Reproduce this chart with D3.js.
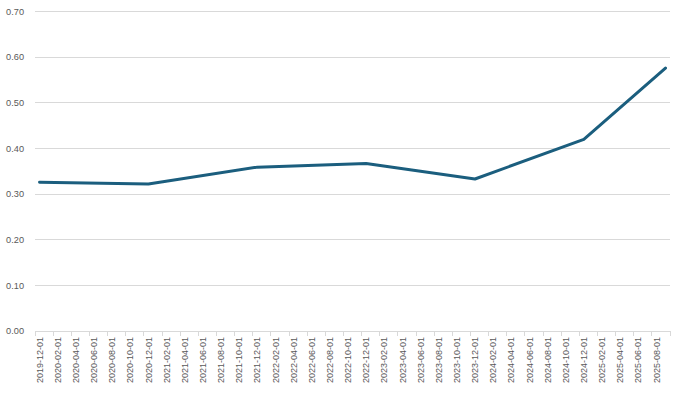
<!DOCTYPE html>
<html>
<head>
<meta charset="utf-8">
<script src="https://cdn.jsdelivr.net/npm/d3@7/dist/d3.min.js"></script>
<style>
  html, body { margin: 0; padding: 0; background: #fff; }
  svg { display: block; }
  text { font-family: "Liberation Sans", Arial, sans-serif; fill: #595959; }
</style>
</head>
<body>
<div id="chart"></div>
<script>
// ---- data ----
const dates = ["2019-12-01","2020-12-01","2021-12-01","2022-12-01","2023-12-01","2024-12-01","2025-09-01"];
const values = [0.326, 0.322, 0.359, 0.367, 0.333, 0.420, 0.576];
const yTicks = [0, 0.1, 0.2, 0.3, 0.4, 0.5, 0.6, 0.7];
const axisStart = "2019-12-01";
const axisEnd = "2025-09-01"; // last monthly slot on the date axis

// ---- layout ----
const W = 683, H = 393;
const margin = { left: 35, right: 13, top: 11.5, bottom: 62 };

const parse = d3.utcParse("%Y-%m-%d");
const fmt = d3.utcFormat("%Y-%m-%d");
const months = d3.utcMonth.range(parse(axisStart), d3.utcMonth.offset(parse(axisEnd), 1));
const monthKeys = months.map(fmt);

const x = d3.scaleBand().domain(monthKeys).range([margin.left, W - margin.right]).padding(0);
const y = d3.scaleLinear().domain([0, 0.7]).range([H - margin.bottom, margin.top]);

const svg = d3.select("#chart").append("svg").attr("width", W).attr("height", H);

// gridlines
svg.append("g").selectAll("line").data(yTicks.filter(d => d > 0)).join("line")
  .attr("x1", margin.left).attr("x2", W - margin.right)
  .attr("y1", d => y(d)).attr("y2", d => y(d))
  .attr("stroke", "#d9d9d9").attr("stroke-width", 1).attr("shape-rendering", "crispEdges");

// y labels
svg.append("g").selectAll("text").data(yTicks).join("text")
  .attr("x", 24).attr("y", d => y(d)).attr("dy", "0.35em")
  .attr("text-anchor", "end").attr("font-size", 9.2)
  .text(d => d.toFixed(2));

// x axis line
const y0 = y(0);
svg.append("line").attr("x1", margin.left).attr("x2", W - margin.right)
  .attr("y1", y0).attr("y2", y0).attr("stroke", "#d9d9d9").attr("shape-rendering", "crispEdges");

// tick marks every 2 months at slot boundaries, plus final edge
const labelKeys = monthKeys.filter((d, i) => i % 2 === 0);
const tickXs = labelKeys.map(k => x(k)).concat([W - margin.right]);
svg.append("g").selectAll("line").data(tickXs).join("line")
  .attr("x1", d => d).attr("x2", d => d)
  .attr("y1", y0).attr("y2", y0 + 5)
  .attr("stroke", "#d9d9d9").attr("shape-rendering", "crispEdges");

// x labels
svg.append("g").selectAll("text").data(labelKeys).join("text")
  .attr("transform", d => `translate(${x(d) + x.bandwidth() / 2},${y0 + 6}) rotate(-90)`)
  .attr("text-anchor", "end").attr("dy", "0.35em").attr("font-size", 9)
  .text(d => d);

// line
const pts = dates.map((d, i) => ({ k: d, v: values[i] }));
svg.append("path").datum(pts)
  .attr("fill", "none").attr("stroke", "#1b5e7e").attr("stroke-width", 3)
  .attr("stroke-linejoin", "round").attr("stroke-linecap", "round")
  .attr("d", d3.line().x(d => x(d.k) + x.bandwidth() / 2).y(d => y(d.v)));
</script>
</body>
</html>
